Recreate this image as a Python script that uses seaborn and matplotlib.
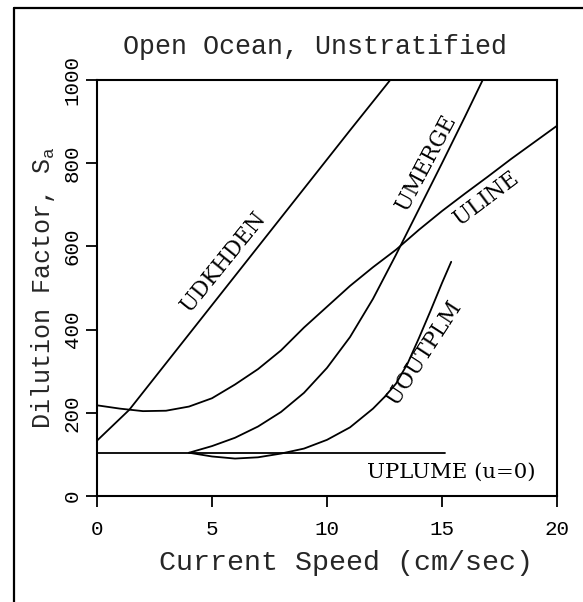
import matplotlib
matplotlib.use("Agg")
import matplotlib.pyplot as plt
import seaborn as sns
import pandas as pd
from matplotlib.lines import Line2D

# ---- data ----
udkhden_x = [0, 1.4, 3, 5, 7, 9, 11, 12.75]
udkhden_y = [133, 207, 319, 459, 599, 739, 879, 1000]

uplume_x = [0, 15.15]
uplume_y = [104, 104]

umerge_x = [4, 5, 6, 7, 8, 9, 10, 11, 12, 13, 14, 15, 16, 16.77]
umerge_y = [104, 120, 140, 167, 202, 248, 308, 382, 474, 580, 690, 800, 912, 1000]

uline_x = [0, 1, 2, 3, 4, 5, 6, 7, 8, 9, 10, 11, 12, 13, 14, 15, 16, 17, 18, 19, 20]
uline_y = [218, 210, 204, 205, 215, 235, 268, 305, 350, 405, 455, 505, 550, 592,
           640, 685, 727, 768, 810, 850, 890]

uoutplm_x = [4, 5, 6, 7, 8, 9, 10, 11, 12, 12.5, 13, 13.5, 14, 14.5, 15, 15.4]
uoutplm_y = [104, 95, 90, 93, 102, 114, 135, 165, 210, 238, 270, 318, 380, 445, 512, 563]

x_ticks = [0, 5, 10, 15, 20]
y_ticks = [0, 200, 400, 600, 800, 1000]

title = "Open Ocean, Unstratified"
x_label = "Current Speed (cm/sec)"
y_label = r"Dilution Factor, S$_\mathregular{a}$"

# ---- figure ----
sns.set_theme(style="ticks")
plt.rcParams["font.family"] = ["Liberation Mono", "DejaVu Sans Mono"]
plt.rcParams["mathtext.fontset"] = "custom"
plt.rcParams["mathtext.rm"] = "Liberation Mono"

W, H = 583, 602
fig = plt.figure(figsize=(W / 100, H / 100), dpi=100)
fig.patch.set_facecolor("white")
L, R, T, B = 97, 557, 80, 496
ax = fig.add_axes([L / W, 1 - B / H, (R - L) / W, (B - T) / H])
ax.set_facecolor("white")

series = [
    ("UDKHDEN", udkhden_x, udkhden_y),
    ("UPLUME", uplume_x, uplume_y),
    ("UMERGE", umerge_x, umerge_y),
    ("ULINE", uline_x, uline_y),
    ("UOUTPLM", uoutplm_x, uoutplm_y),
]
frames = [pd.DataFrame({"speed": xs, "dilution": ys, "model": name}) for name, xs, ys in series]
df = pd.concat(frames, ignore_index=True)
sns.lineplot(data=df, x="speed", y="dilution", units="model", estimator=None,
             sort=False, color="black", lw=1.3, ax=ax, legend=False)

ax.set_xlim(0, 20)
ax.set_ylim(0, 1000)
ax.set_xticks(x_ticks)
ax.set_yticks(y_ticks)
ax.set_xticklabels([str(t) for t in x_ticks], fontsize=15)
ax.set_yticklabels([str(t) for t in y_ticks], fontsize=15, rotation=90, va="center")
ax.tick_params(axis="both", direction="out", length=8, width=1.3, color="black",
               labelcolor="black")
ax.tick_params(axis="x", pad=9)
ax.tick_params(axis="y", pad=3)
for s in ax.spines.values():
    s.set_visible(True)
    s.set_color("black")
    s.set_linewidth(1.5)

ax.set_xlabel("")
ax.set_ylabel(y_label, fontsize=18, labelpad=4)
fig.text(346 / W, 1 - 563 / H, x_label, fontsize=20.4, ha="center", va="center")
fig.text(315 / W, 1 - 47 / H, title, fontsize=19.2, ha="center", va="center")

lab = dict(family="DejaVu Serif", fontsize=15.5, color="black", ha="center", va="center")
ax.text(5.52, 562, "UDKHDEN", rotation=51, **lab)
ax.text(14.33, 800, "UMERGE", rotation=62, **lab)
ax.text(16.94, 716, "ULINE", rotation=37, **lab)
ax.text(14.23, 343, "UOUTPLM", rotation=57, **lab)
ax.text(11.72, 58, "UPLUME (u=0)", family="DejaVu Serif", fontsize=15.3,
        color="black", ha="left", va="center")

# outer frame (scanned page border)
fig.add_artist(Line2D([14 / W, 14 / W], [0, 1 - 8 / H], color="black", lw=1.6,
                      transform=fig.transFigure))
fig.add_artist(Line2D([14 / W, 1], [1 - 8 / H, 1 - 8 / H], color="black", lw=1.6,
                      transform=fig.transFigure))

fig.savefig("out.png", dpi=100, facecolor="white")
